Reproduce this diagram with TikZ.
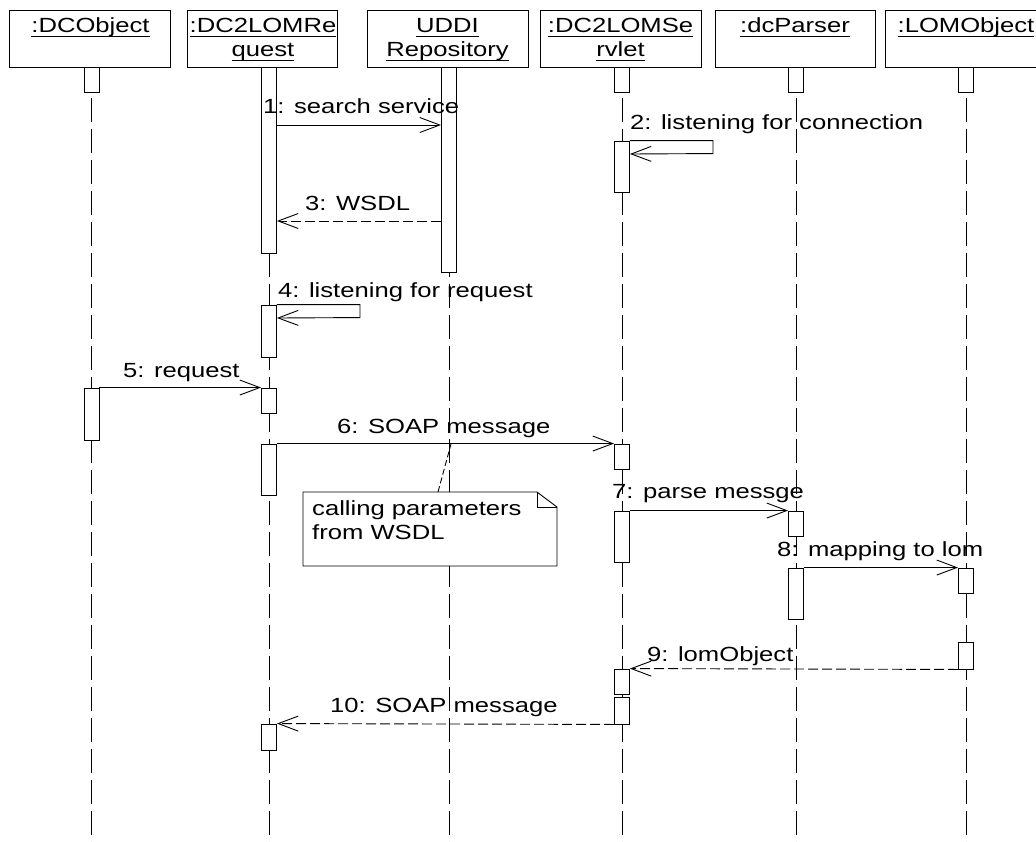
\documentclass[tikz,border=0pt]{standalone}
\usepackage{fontspec}
\setmainfont{Liberation Sans}[FakeStretch=1.25]
\usetikzlibrary{arrows.meta,calc,backgrounds}
\newcommand{\hdrul}[1]{\setbox0\hbox{\rule{0pt}{15pt}#1}\rlap{\rule[-4pt]{\wd0}{1pt}}\box0}
\newcommand{\actbox}[4]{\node[act, minimum height={#4-#3}] (#1) at (#2,{(#3+#4)/2}) {};}
\tikzset{
  txt/.style={font=\fontsize{20.5pt}{24pt}\selectfont},
  hdrbox/.style={draw, line width=0.9pt, minimum height=57pt, inner sep=0pt},
  hdrtxt/.style={txt, anchor=north, inner sep=0pt, align=center},
  lbl/.style={txt, anchor=base west, inner sep=0pt},
  act/.style={draw, fill=white, line width=0.9pt, minimum width=15pt, inner sep=0pt},
  lifeline/.style={line width=0.9pt, dash pattern=on 24pt off 7pt},
  msg/.style={line width=0.9pt, -{Straight Barb[length=20pt,width=15pt,line width=0.9pt]}},
  ret/.style={msg, dash pattern=on 10pt off 4pt},
  notebox/.style={fill=white, minimum width=254pt, minimum height=74pt, inner sep=0pt, outer sep=0pt},
  noteline/.style={line width=0.9pt},
  notelink/.style={line width=0.9pt, dash pattern=on 6pt off 3pt},
}
\begin{document}
\begin{tikzpicture}[x=1pt,y=-1pt]
\useasboundingbox (0,0) rectangle (1036,841);
\clip (0,0) rectangle (1036,841);

% headers
\node[hdrbox, minimum width=161pt] (h1) at (89.5,38.5) {};
\node[hdrbox, minimum width=150pt] (h2) at (262,38.5) {};
\node[hdrbox, minimum width=161pt] (h3) at (447.5,38.5) {};
\node[hdrbox, minimum width=161pt] (h4) at (620.5,38.5) {};
\node[hdrbox, minimum width=160pt] (h5) at (795,38.5) {};
\node[hdrbox, minimum width=162pt] (h6) at (966,38.5) {};
\node[hdrtxt] (t1) at ($(h1.north)+(1,8)$) {\hdrul{:DCObject}};
\node[hdrtxt] (t2) at ($(h2.north)+(1,8)$) {\hdrul{:DC2LOMRe}\\\hdrul{quest}};
\node[hdrtxt] (t3) at ($(h3.north)+(0,8)$) {\hdrul{UDDI}\\\hdrul{Repository}};
\node[hdrtxt] (t4) at ($(h4.north)+(0,8)$) {\hdrul{:DC2LOMSe}\\\hdrul{rvlet}};
\node[hdrtxt] (t5) at ($(h5.north)+(0,8)$) {\hdrul{:dcParser}};
\node[hdrtxt] (t6) at ($(h6.north)+(0,8)$) {\hdrul{:LOMObject}};

% activation boxes
\actbox{a1a}{91.5}{67}{92}
\actbox{a1b}{91.5}{388}{440}
\actbox{a2a}{269}{67}{253}
\actbox{a2b}{269}{305}{357}
\actbox{a2c}{269}{388}{413}
\actbox{a2d}{269}{444}{495}
\actbox{a2e}{269}{724}{750}
\actbox{a3a}{449}{67}{272}
\actbox{a4a}{622}{67}{92}
\actbox{a4b}{622}{141}{192}
\actbox{a4c}{622}{444}{469}
\actbox{a4d}{622}{511}{562}
\actbox{a4e}{622}{669}{694}
\actbox{a4f}{622}{697}{724}
\actbox{a5a}{796}{67}{92}
\actbox{a5b}{796}{511}{536}
\actbox{a5c}{796}{568}{619}
\actbox{a6a}{966}{67}{92}
\actbox{a6b}{966}{568}{593}
\actbox{a6c}{966}{642}{669}

% lifelines
\begin{pgfonlayer}{background}
\foreach \b in {a1a,a2a,a3a,a4a,a5a,a6a}
  \draw[lifeline] (\b.north) -- (\b.north |- 0,845);
\end{pgfonlayer}

% note
\node[notebox] (note) at (430,529) {};
\draw[noteline] (note.north west) -- ($(note.north east)+(-20,0)$) -- ($(note.north east)+(0,15)$) -- (note.south east) -- (note.south west) -- cycle;
\draw[noteline] ($(note.north east)+(-20,0)$) -- ($(note.north east)+(-20,15)$) -- ($(note.north east)+(0,15)$);
\node[txt, anchor=north west, inner sep=0pt, align=left] (nt) at ($(note.north west)+(9,8)$) {\rule{0pt}{15pt}calling parameters\\\rule{0pt}{15pt}from WSDL};
\coordinate (n6) at (451,444);
\draw[notelink] ($(note.north west)+(135,0)$) -- (n6);

% messages
\draw[msg] (a2a.east |- 0,125) -- (a3a.west |- 0,125);
\draw[msg] (a4b.north east) -- ++(83,0) -- ++(0,13) -- (a4b.east |- 0,154);
\draw[ret] (a3a.west |- 0,221) -- (a2a.east |- 0,221);
\draw[msg] (a2b.north east) -- ++(83,0) -- ++(0,13) -- (a2b.east |- 0,318);
\draw[msg] (a1b.north east) -- (a2c.north west);
\draw[msg] (a2d.north east) -- (a4c.north west);
\draw[msg] (a4d.north east) -- (a5b.north west);
\draw[msg] (a5c.north east) -- (a6b.north west);
\draw[ret] (a6c.south west) -- (a4e.north east);
\draw[ret] (a4f.south west) -- (a2e.north east);

% labels
\node[lbl] (l1) at (263,113) {1: search service};
\node[lbl] (l2) at (630,129) {2: listening for connection};
\node[lbl] (l3) at (305,210) {3: WSDL};
\node[lbl] (l4) at (278,297) {4: listening for request};
\node[lbl] (l5) at (123,377) {5: request};
\node[lbl] (l6) at (337,433) {6: SOAP message};
\node[lbl] (l7) at (612,498) {7: parse messge};
\node[lbl] (l8) at (777,556) {8: mapping to lom};
\node[lbl] (l9) at (647,661) {9: lomObject};
\node[lbl] (l10) at (330,712) {10: SOAP message};
\end{tikzpicture}
\end{document}
